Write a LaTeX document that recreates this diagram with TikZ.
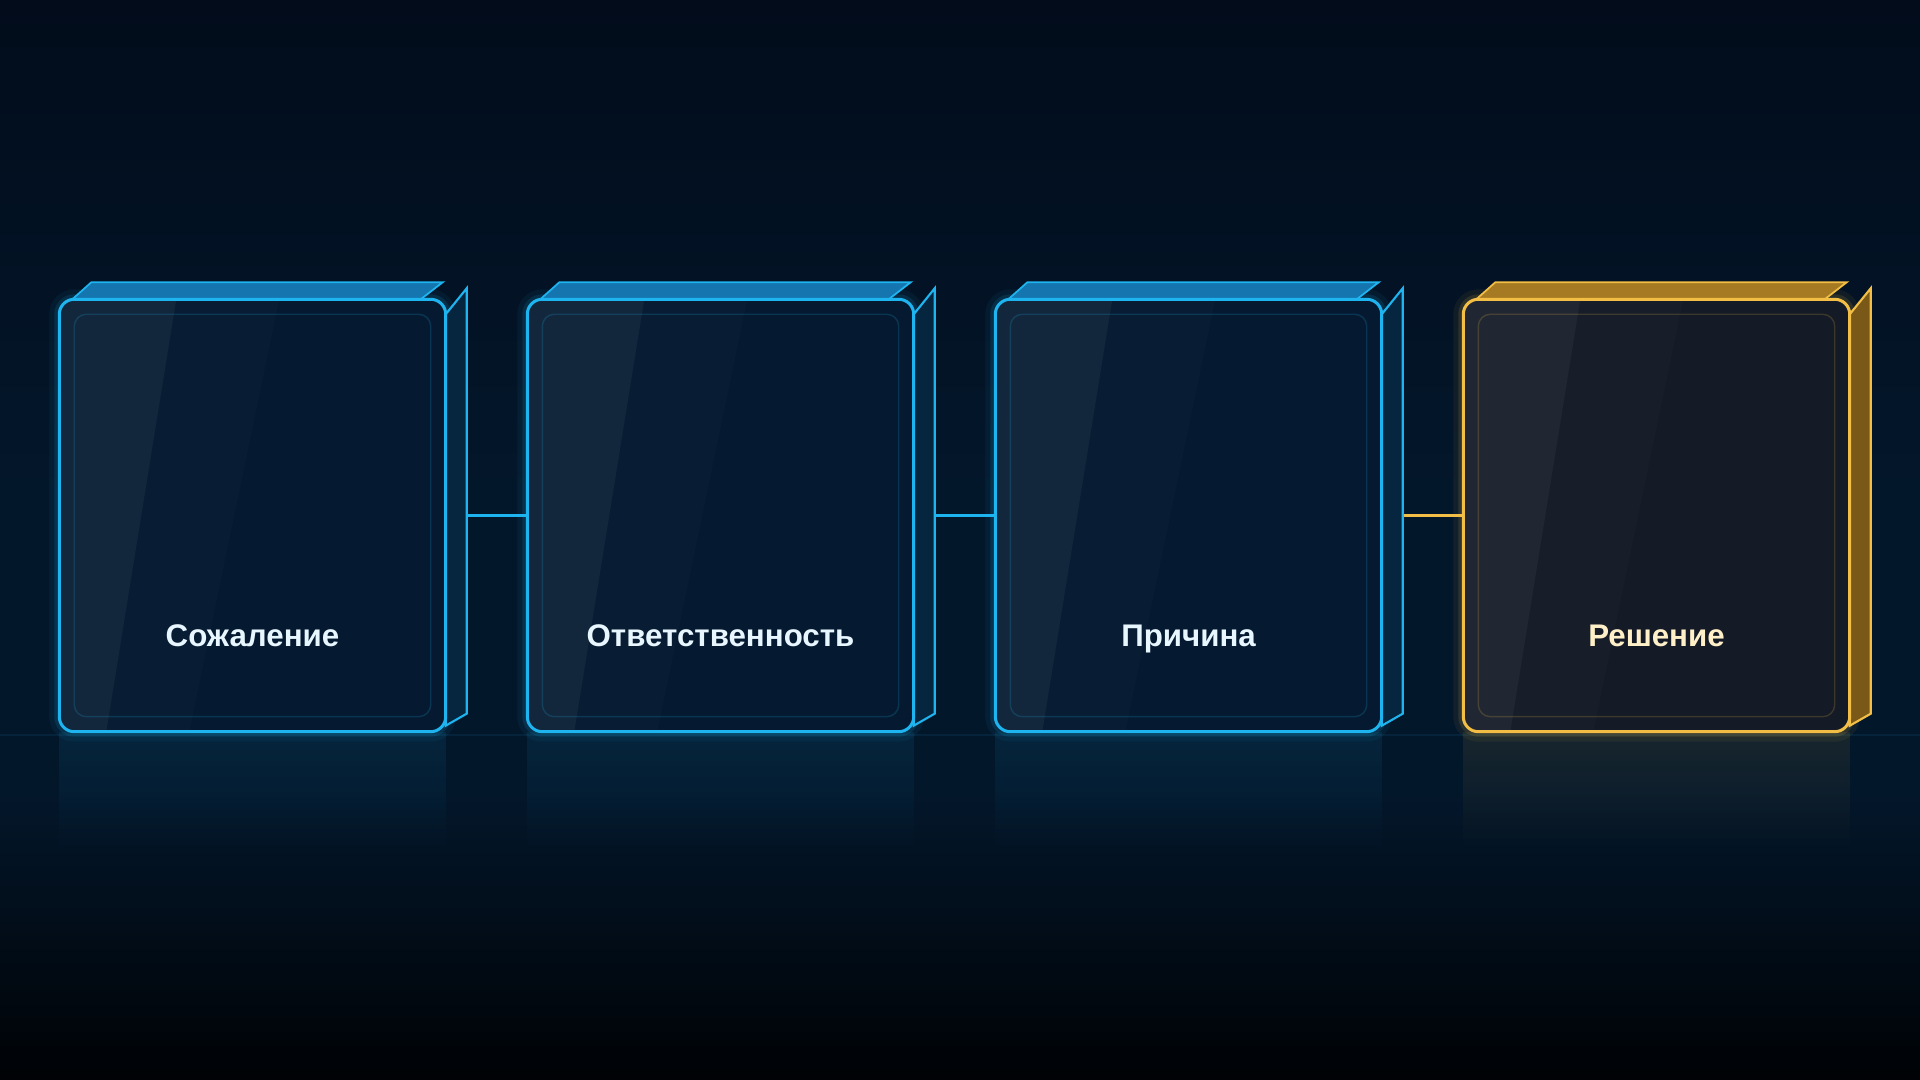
\documentclass[tikz,border=0pt]{standalone}
\usepackage{fontspec}
\setmainfont{Liberation Sans}
\usetikzlibrary{fadings}

\definecolor{bgtop}{HTML}{020C1B}
\definecolor{bgmid}{HTML}{03172B}
\definecolor{bgbot}{HTML}{000205}
\definecolor{cyanedge}{HTML}{1EB4F0}
\definecolor{cyantop}{HTML}{1575AE}
\definecolor{cyanside}{HTML}{062640}
\definecolor{cyanfill}{HTML}{051A30}
\definecolor{cyantext}{HTML}{E8F6FF}
\definecolor{goldedge}{HTML}{F2BE45}
\definecolor{goldtop}{HTML}{A67A22}
\definecolor{goldside}{HTML}{7A5818}
\definecolor{goldfill}{HTML}{141A26}
\definecolor{goldtext}{HTML}{FFF0C8}

\tikzfading[name=glowdown, top color=transparent!0, bottom color=transparent!100]

\tikzset{
    card/.style={rectangle, minimum width=3.85cm, minimum height=4.31cm, inner sep=0pt},
    link/.style={draw=#1, line width=0.03cm},
    cardtext/.style={text=#1, font=\bfseries\fontsize{8.9pt}{10pt}\selectfont, text height=1.6ex, text depth=0.2ex},
    floorline/.style={draw=cyanedge, draw opacity=0.08, line width=0.02cm},
}

\begin{document}
\begin{tikzpicture}
\useasboundingbox (0,0) rectangle (19.2,10.8);

%% 背景
\shade[top color=bgtop, bottom color=bgmid] (0,5.8) rectangle (19.2,10.8);
\fill[bgmid] (0,2.9) rectangle (19.2,5.8);
\shade[top color=bgmid, bottom color=bgbot] (0,0) rectangle (19.2,2.9);
\draw[floorline] (0,3.45) -- (19.2,3.45);

%% 四个方块的位置
\foreach \k/\name in {0/c0, 1/c1, 2/c2, 3/c3}
{
    \node[card] (\name) at (2.525+4.68*\k, 5.645) {};
}

%% 连线
\draw[link=cyanedge] (c0.east) -- (c1.west);
\draw[link=cyanedge] (c1.east) -- (c2.west);
\draw[link=goldedge] (c2.east) -- (c3.west);

%% 方块: 顶面, 侧面, 正面
\foreach \name/\ec/\tc/\sc/\fc in {c0/cyanedge/cyantop/cyanside/cyanfill, c1/cyanedge/cyantop/cyanside/cyanfill,
    c2/cyanedge/cyantop/cyanside/cyanfill, c3/goldedge/goldtop/goldside/goldfill}
{
    \fill[\ec, path fading=glowdown, fill opacity=0.09] (\name.south west) rectangle ([yshift=-1.2cm]\name.south east);
    \draw[\ec, line width=0.2cm, opacity=0.06, rounded corners=0.15cm] (\name.north west) rectangle (\name.south east);
    \draw[\ec, line width=0.1cm, opacity=0.12, rounded corners=0.15cm] (\name.north west) rectangle (\name.south east);

    \fill[\tc, draw=\ec, line width=0.5pt] ([xshift=0.13cm]\name.north west) -- ([shift={(0.32,0.17)}]\name.north west)
        -- ([shift={(-0.03,0.17)}]\name.north east) -- ([xshift=-0.25cm]\name.north east) -- cycle;
    \filldraw[fill=\sc, draw=\ec, line width=0.6pt] ([yshift=-0.15cm]\name.north east) -- ([shift={(0.21,0.11)}]\name.north east)
        -- ([shift={(0.21,0.18)}]\name.south east) -- ([yshift=0.06cm]\name.south east) -- cycle;

    \fill[\fc, rounded corners=0.15cm] (\name.north west) rectangle (\name.south east);
    \begin{scope}
        \clip[rounded corners=0.15cm] (\name.north west) rectangle (\name.south east);
        \fill[white, fill opacity=0.06] (\name.north west) -- ([xshift=1.17cm]\name.north west)
            -- ([xshift=0.47cm]\name.south west) -- (\name.south west) -- cycle;
        \fill[white, fill opacity=0.015] ([xshift=1.17cm]\name.north west) -- ([xshift=2.2cm]\name.north west)
            -- ([xshift=1.3cm]\name.south west) -- ([xshift=0.47cm]\name.south west) -- cycle;
    \end{scope}
    \draw[\ec, draw opacity=0.18, line width=0.4pt, rounded corners=0.12cm] ([shift={(0.15,-0.15)}]\name.north west) rectangle ([shift={(-0.15,0.15)}]\name.south east);
    \draw[\ec, line width=0.03cm, rounded corners=0.15cm] (\name.north west) rectangle (\name.south east);
}

%% 文字
\foreach \name/\tname/\xc/\txt in {c0/t0/cyantext/Сожаление, c1/t1/cyantext/Ответственность,
    c2/t2/cyantext/Причина, c3/t3/goldtext/Решение}
{
    \node[cardtext=\xc] (\tname) at ([yshift=-1.18cm]\name.center) {\txt};
}

\end{tikzpicture}
\end{document}
